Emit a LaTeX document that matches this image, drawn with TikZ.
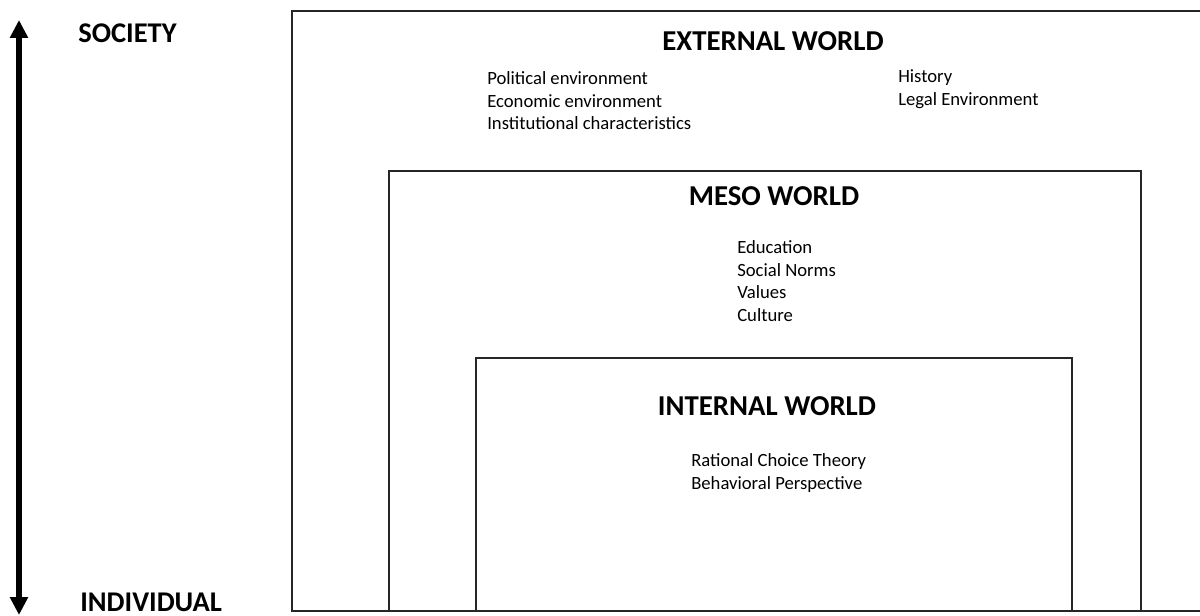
\documentclass[tikz,border=0pt]{standalone}
\usepackage{fontspec}
\setmainfont{Carlito}
\usetikzlibrary{arrows.meta}

\begin{document}
\begin{tikzpicture}[x=0.75pt,y=-0.75pt,
  frame/.style={draw=black!85, line width=1.6pt, line join=miter},
  heading/.style={font=\fontsize{21.6}{25}\selectfont\bfseries, inner sep=0pt, anchor=base},
  axislabel/.style={font=\fontsize{21.4}{25}\selectfont\bfseries, inner sep=0pt, anchor=base west},
  item/.style={font=\fontsize{14}{17}\selectfont, inner sep=0pt, anchor=base west},
  axis/.style={line width=3.8pt, {Triangle[length=13.5pt,width=13pt]}-{Triangle[length=13.5pt,width=13pt]}}]
\useasboundingbox (0,0) rectangle (1200,616);

% vertical scale from individual to society
\coordinate (top) at (19,20);
\coordinate (bottom) at (19,615);
\draw[axis] (top) -- (bottom);
\node[axislabel] (society) at (78,43) {SOCIETY};
\node[axislabel] (individual) at (80,611) {INDIVIDUAL};

% nested worlds, sharing one base line
\draw[frame] (1202,11) -| (292,611) -- (1202,611);
\draw[frame] (389,611) |- (1141,171) -- (1141,611);
\draw[frame] (476,611) |- (1072,358) -- (1072,611);

% external world
\node[heading] (ext) at (773,51) {EXTERNAL WORLD};
\node[item] (ext1) at (487,85) {Political environment};
\node[item] (ext2) at (487,107.5) {Economic environment};
\node[item] (ext3) at (487,130) {Institutional characteristics};
\node[item] (ext4) at (898,83) {History};
\node[item] (ext5) at (898,105.5) {Legal Environment};

% meso world
\node[heading] (meso) at (774,206) {MESO WORLD};
\node[item] (meso1) at (737,254) {Education};
\node[item] (meso2) at (737,276.5) {Social Norms};
\node[item] (meso3) at (737,299) {Values};
\node[item] (meso4) at (737,321.5) {Culture};

% internal world
\node[heading] (int) at (767,416) {INTERNAL WORLD};
\node[item] (int1) at (691,467) {Rational Choice Theory};
\node[item] (int2) at (691,489.5) {Behavioral Perspective};
\end{tikzpicture}
\end{document}
